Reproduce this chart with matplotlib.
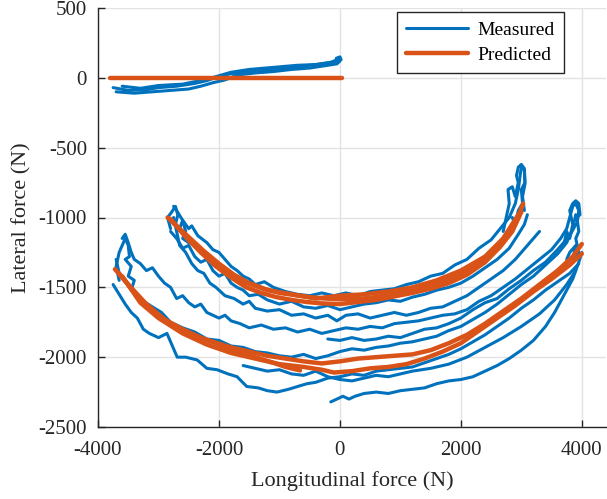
import matplotlib
matplotlib.use("Agg")
import matplotlib.pyplot as plt
import numpy as np

plt.rcParams['font.family'] = ['Liberation Serif', 'DejaVu Serif']
plt.rcParams['axes.unicode_minus'] = False

BLUE = '#0072BD'
ORANGE = '#D95319'

x_ticks = [-4000, -2000, 0, 2000, 4000]
y_ticks = [-2500, -2000, -1500, -1000, -500, 0, 500]
x_label = 'Longitudinal force (N)'
y_label = 'Lateral force (N)'
legend_labels = ['Measured', 'Predicted']

# ---------------- Measured (blue) traces: (x, y) points ----------------
meas_top_a = [(-3750,-70),(-3500,-90),(-3200,-85),(-3000,-70),(-2700,-60),(-2400,-40),(-2200,-20),(-2000,10),
              (-1800,30),(-1500,45),(-1200,55),(-900,70),(-600,85),(-300,100),(-150,110),(-50,130),(0,140)]
meas_top_b = [(-3700,-100),(-3400,-110),(-3100,-100),(-2800,-90),(-2500,-80),(-2300,-60),(-2100,-35),(-1900,-15),
              (-1700,20),(-1400,35),(-1100,45),(-800,60),(-500,70),(-200,90),(-50,100),(0,120)]
meas_top_c = [(-3600,-60),(-3300,-75),(-3000,-55),(-2600,-45),(-2200,-10),(-1800,40),(-1500,60),(-1100,75),
              (-700,90),(-400,95),(-100,115),(20,130),(0,150),(-60,140)]

meas_up_a = [(-2750,-920),(-2700,-950),(-2600,-1020),(-2500,-1080),(-2450,-1060),(-2350,-1130),(-2200,-1180),
             (-2100,-1230),(-2000,-1250),(-1900,-1300),(-1800,-1350),(-1700,-1380),(-1600,-1420),(-1500,-1440),
             (-1400,-1480),(-1250,-1460),(-1100,-1500),(-900,-1530),(-700,-1550),(-500,-1560),(-300,-1540),
             (-100,-1560),(100,-1540),(300,-1560),(500,-1530),(700,-1520),(900,-1510),(1100,-1480),(1300,-1460),
             (1500,-1420),(1700,-1400),(1900,-1340),(2100,-1300),(2300,-1220),(2500,-1160),(2650,-1080),
             (2800,-1000),(2900,-900),(2950,-800),(2980,-700),(3000,-640),(3050,-660),(3060,-760),(3020,-850),(3050,-950)]
meas_up_b = [(-2800,-1100),(-2700,-1150),(-2600,-1220),(-2500,-1200),(-2400,-1280),(-2300,-1320),(-2200,-1300),
             (-2100,-1380),(-2000,-1420),(-1900,-1400),(-1800,-1470),(-1700,-1500),(-1600,-1520),(-1500,-1560),
             (-1350,-1550),(-1200,-1590),(-1000,-1620),(-800,-1600),(-600,-1640),(-400,-1650),(-200,-1630),
             (0,-1660),(200,-1640),(400,-1620),(600,-1610),(800,-1590),(1000,-1600),(1200,-1570),(1400,-1550),
             (1600,-1520),(1800,-1500),(2000,-1470),(2200,-1420),(2400,-1360),(2600,-1300),(2800,-1220),
             (2950,-1120),(3050,-1050),(3100,-980)]
meas_up_c = [(-2750,-1000),(-2700,-1100),(-2650,-1200),(-2550,-1250),(-2450,-1330),(-2350,-1380),(-2250,-1400),
             (-2150,-1470),(-2050,-1500),(-1900,-1560),(-1750,-1580),(-1600,-1620),(-1500,-1600),(-1400,-1650),
             (-1200,-1670),(-1000,-1660),(-800,-1700),(-600,-1690),(-400,-1720),(-200,-1700),(-50,-1740),
             (100,-1700),(300,-1690),(500,-1720),(700,-1700),(900,-1680),(1100,-1700),(1300,-1680),(1500,-1650),
             (1700,-1640),(1900,-1600),(2100,-1560),(2300,-1500),(2500,-1440),(2700,-1380),(2900,-1300),
             (3100,-1200),(3300,-1100)]
meas_up_tip = [(2700,-1100),(2750,-1000),(2800,-900),(2780,-800),(2850,-780),(2900,-850),(2950,-750),(2920,-700),
               (2950,-640),(3000,-620),(3050,-650),(3060,-750),(3000,-800),(3020,-900),(2950,-950),(2900,-1050),(2850,-1000)]
meas_up_left = [(-2800,-1080),(-2850,-1000),(-2780,-960),(-2720,-920),(-2680,-980),(-2720,-1050),(-2650,-1080),
                (-2600,-1020),(-2550,-1100),(-2600,-1150),(-2500,-1180)]

meas_lo_a = [(-3600,-1150),(-3550,-1120),(-3500,-1180),(-3450,-1250),(-3400,-1300),(-3300,-1330),(-3200,-1380),
             (-3100,-1360),(-3000,-1420),(-2900,-1470),(-2800,-1500),(-2700,-1580),(-2600,-1560),(-2500,-1610),
             (-2400,-1640),(-2300,-1620),(-2200,-1680),(-2100,-1700),(-2000,-1720),(-1900,-1700),(-1800,-1740),
             (-1650,-1760),(-1500,-1790),(-1300,-1770),(-1100,-1800),(-900,-1790),(-700,-1820),(-500,-1800),
             (-300,-1830),(-100,-1810),(100,-1790),(300,-1800),(500,-1780),(700,-1790),(900,-1760),(1100,-1750),
             (1300,-1740),(1500,-1720),(1700,-1700),(1900,-1690),(2100,-1660),(2300,-1600),(2500,-1560),
             (2700,-1500),(2900,-1440),(3100,-1370),(3300,-1300),(3500,-1230),(3650,-1150),(3750,-1080),
             (3800,-1000),(3850,-920),(3900,-900),(3950,-950),(3920,-1050)]
meas_lo_b = [(-3700,-1300),(-3650,-1400),(-3550,-1450),(-3450,-1520),(-3350,-1560),(-3250,-1600),(-3100,-1640),
             (-2950,-1680),(-2800,-1750),(-2600,-1790),(-2400,-1820),(-2200,-1870),(-2000,-1880),(-1800,-1920),
             (-1600,-1930),(-1400,-1960),(-1200,-1970),(-1000,-1990),(-800,-2000),(-600,-1980),(-400,-2010),
             (-200,-1990),(0,-1960),(200,-1940),(400,-1950),(600,-1930),(800,-1920),(1000,-1900),(1200,-1890),
             (1400,-1870),(1600,-1850),(1800,-1810),(2000,-1780),(2200,-1730),(2400,-1680),(2600,-1620),
             (2800,-1550),(3000,-1480),(3200,-1420),(3400,-1340),(3600,-1260),(3750,-1180),(3850,-1080),(3900,-980)]
meas_lo_c = [(-200,-1870),(0,-1880),(200,-1860),(400,-1880),(600,-1870),(800,-1850),(1000,-1860),(1200,-1830),
             (1400,-1800),(1600,-1790),(1800,-1760),(2000,-1720),(2200,-1660),(2400,-1610),(2600,-1580),
             (2800,-1510),(3000,-1450),(3200,-1380),(3400,-1320),(3600,-1230),(3800,-1130),(3900,-1050)]
meas_lo_d = [(-3750,-1480),(-3650,-1550),(-3550,-1620),(-3450,-1680),(-3350,-1720),(-3250,-1800),(-3150,-1830),
             (-3000,-1860),(-2860,-1830),(-2750,-1940),(-2690,-2000),(-2550,-2000),(-2360,-2020),(-2200,-2080),
             (-2030,-2090),(-1850,-2120),(-1700,-2140),(-1540,-2210),(-1350,-2220),(-1200,-2240),(-1040,-2250),
             (-850,-2230),(-700,-2210),(-545,-2190),(-400,-2180),(-200,-2150),(0,-2140),(200,-2120),(400,-2130),
             (600,-2100),(800,-2090),(1000,-2080),(1200,-2070),(1400,-2040),(1600,-2010),(1800,-1980),
             (2000,-1940),(2200,-1890),(2400,-1840),(2600,-1780),(2800,-1720),(3000,-1650),(3200,-1590),
             (3400,-1520),(3600,-1460),(3800,-1400),(3950,-1330)]
meas_lo_e = [(-150,-2320),(-50,-2300),(50,-2280),(150,-2300),(250,-2280),(400,-2260),(600,-2250),(800,-2260),
             (1000,-2240),(1200,-2230),(1400,-2220),(1600,-2190),(1800,-2170),(2000,-2160),(2200,-2140),
             (2400,-2100),(2600,-2060),(2800,-2010),(3000,-1950),(3200,-1880),(3400,-1780),(3550,-1680),
             (3700,-1560),(3850,-1440),(3950,-1320),(4000,-1250)]
meas_lo_f = [(-1600,-2060),(-1400,-2080),(-1200,-2100),(-1000,-2090),(-800,-2120),(-600,-2130),(-400,-2100),
             (-200,-2140),(0,-2160),(200,-2170),(400,-2150),(600,-2130),(800,-2140),(1000,-2120),(1200,-2100),
             (1500,-2080),(1800,-2050),(2100,-2000),(2400,-1930),(2700,-1860),(3000,-1780),(3300,-1690),
             (3550,-1590),(3750,-1480),(3900,-1380)]
meas_lo_tip = [(3700,-1200),(3750,-1100),(3800,-1150),(3850,-1050),(3800,-950),(3850,-900),(3900,-880),(3950,-900),
               (3970,-980),(3920,-1000),(3950,-1100),(3900,-1150),(3950,-1250),(3850,-1300),(3900,-1200),
               (3800,-1250),(3750,-1300)]
meas_lo_left = [(-3650,-1450),(-3700,-1350),(-3650,-1250),(-3600,-1200),(-3550,-1150),(-3500,-1200),(-3480,-1280),
                (-3550,-1300),(-3450,-1350),(-3500,-1420),(-3400,-1450),(-3450,-1520),(-3350,-1550)]

# ---------------- Predicted (orange) traces ----------------
pred_top = [(-3800,0),(-2000,0),(0,0),(30,0)]
pred_up_a = [(-2850,-1000),(-2700,-1060),(-2500,-1140),(-2250,-1240),(-2000,-1330),(-1750,-1410),(-1500,-1470),
             (-1250,-1510),(-1000,-1540),(-750,-1555),(-500,-1570),(-250,-1580),(0,-1585),(250,-1585),(500,-1575),
             (750,-1560),(1000,-1535),(1250,-1510),(1500,-1480),(1750,-1450),(2000,-1410),(2250,-1340),
             (2500,-1250),(2700,-1160),(2850,-1070),(2950,-990),(3030,-900)]
pred_up_b = [(-2800,-1010),(-2550,-1140),(-2300,-1250),(-2050,-1350),(-1800,-1430),(-1550,-1500),(-1300,-1540),
             (-1050,-1570),(-800,-1590),(-550,-1605),(-300,-1615),(0,-1620),(300,-1605),(600,-1590),(900,-1565),
             (1200,-1540),(1500,-1510),(1800,-1470),(2100,-1410),(2400,-1320),(2650,-1210),(2850,-1100),(3000,-960)]
pred_up_c = [(-2750,-1040),(-2400,-1200),(-2000,-1360),(-1600,-1460),(-1200,-1520),(-800,-1550),(-400,-1580),
             (0,-1560),(400,-1550),(800,-1530),(1200,-1500),(1600,-1450),(2000,-1380),(2400,-1280),(2700,-1150),(2950,-980)]
pred_lo_a = [(-3720,-1370),(-3500,-1480),(-3200,-1620),(-2900,-1730),(-2600,-1800),(-2300,-1860),(-2000,-1910),
             (-1700,-1960),(-1400,-2000),(-1100,-2040),(-900,-2070),(-660,-2095)]
pred_lo_b = [(-3650,-1400),(-3300,-1590),(-3000,-1700),(-2700,-1790),(-2400,-1850),(-2100,-1890),(-1800,-1930),
             (-1500,-1960),(-1200,-1990),(-900,-2010),(-600,-2030),(-300,-2045),(0,-2030),(300,-2010),(600,-2000),
             (900,-1990),(1200,-1980),(1500,-1950),(1800,-1900),(2100,-1840),(2400,-1760),(2700,-1670),(3000,-1580),
             (3300,-1480),(3600,-1380),(3850,-1280),(4000,-1190)]
pred_lo_c = [(-3600,-1420),(-3300,-1610),(-3000,-1720),(-2600,-1830),(-2200,-1910),(-1800,-1970),(-1400,-2010),
             (-1000,-2050),(-600,-2070),(-300,-2090),(-100,-2110),(200,-2100),(500,-2080),(800,-2070),(1100,-2050),
             (1400,-2010),(1700,-1960),(2000,-1900),(2300,-1810),(2600,-1720),(2900,-1630),(3200,-1530),
             (3500,-1440),(3800,-1340),(4000,-1260)]

measured = [meas_top_a, meas_top_b, meas_top_c, meas_up_a, meas_up_b, meas_up_c, meas_up_tip, meas_up_left,
            meas_lo_a, meas_lo_b, meas_lo_c, meas_lo_d, meas_lo_e, meas_lo_f, meas_lo_tip, meas_lo_left]
predicted = [pred_top, pred_up_a, pred_up_b, pred_up_c, pred_lo_a, pred_lo_b, pred_lo_c]

fig = plt.figure(figsize=(6.07, 4.99), dpi=100)
ax = fig.add_axes([98/607, (499-427)/499, 508/607, 419/499])

for i, tr in enumerate(measured):
    arr = np.array(tr, dtype=float)
    ax.plot(arr[:, 0], arr[:, 1], color=BLUE, lw=2.2, solid_capstyle='round', solid_joinstyle='round',
            label=legend_labels[0] if i == 0 else None, zorder=2)
for i, tr in enumerate(predicted):
    arr = np.array(tr, dtype=float)
    ax.plot(arr[:, 0], arr[:, 1], color=ORANGE, lw=3.2, solid_capstyle='round', solid_joinstyle='round',
            label=legend_labels[1] if i == 0 else None, zorder=3)

ax.set_xlim(-4000, 4400)
ax.set_ylim(-2500, 500)
ax.set_xticks(x_ticks)
ax.set_yticks(y_ticks)
ax.grid(True, color='#e3e3e3', lw=1.0)
ax.set_axisbelow(True)
for s in ['top', 'right']:
    ax.spines[s].set_visible(False)
for s in ['left', 'bottom']:
    ax.spines[s].set_color('#262626')
    ax.spines[s].set_linewidth(1.0)
ax.tick_params(direction='in', length=5, width=1, colors='#262626', labelsize=15, labelcolor='#262626')
ax.tick_params(axis='x', pad=10)
ax.tick_params(axis='y', pad=8)
ax.set_xlabel(x_label, fontsize=16, color='#262626', labelpad=8)
ax.set_ylabel(y_label, fontsize=16, color='#262626', labelpad=5)

leg = ax.legend(loc='upper right', bbox_to_anchor=(0.917, 0.99), borderaxespad=0, fontsize=14, frameon=True,
                fancybox=False, edgecolor='#262626', framealpha=1, handlelength=3.2, borderpad=0.45,
                labelspacing=0.4, handletextpad=0.5)
leg.get_frame().set_linewidth(1.0)

fig.savefig('out.png', dpi=100)
